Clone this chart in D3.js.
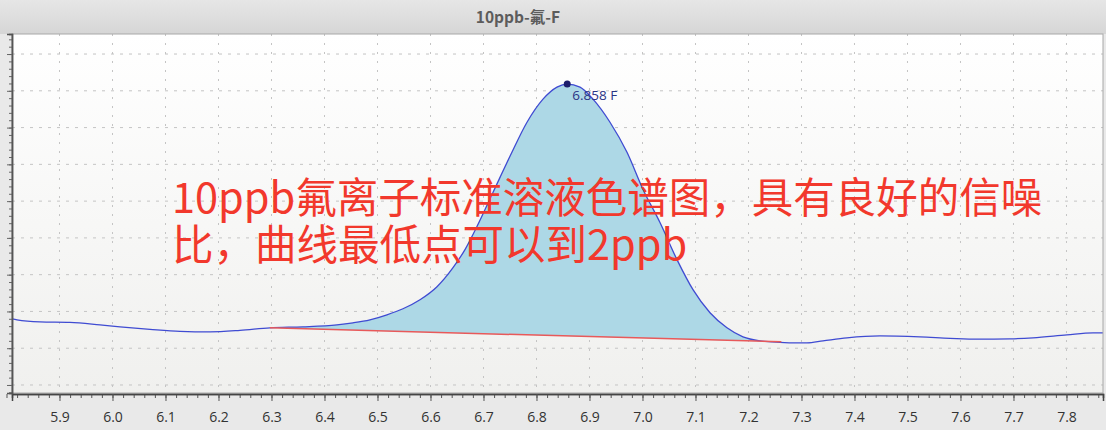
<!DOCTYPE html>
<html>
<head>
<meta charset="utf-8">
<script src="https://cdn.jsdelivr.net/npm/d3@7/dist/d3.min.js"></script>
<style>
  html, body { margin: 0; padding: 0; background: #e9e9e9; }
  svg { display: block; }
</style>
</head>
<body>
<svg id="chart" width="1106" height="430"></svg>
<script>
// ---- data (retention time in min, detector signal in arbitrary units) ----
const title = "10ppb-氟-F";
const timeValues = [5.8104, 5.8198, 5.8632, 5.9198, 5.9764, 6.0142, 6.0708, 6.1274, 6.1840, 6.2406,
  6.2972, 6.3594, 6.4236, 6.4538, 6.4858, 6.5179, 6.5481, 6.5802, 6.6123, 6.6425,
  6.6651, 6.6877, 6.7179, 6.7500, 6.7821, 6.8123, 6.8387, 6.858, 6.8821,
  6.9066, 6.9387, 6.9708, 7.0010, 7.0330, 7.0651, 7.0953, 7.1274, 7.1594, 7.1896,
  7.2217, 7.2594, 7.2915, 7.3104, 7.3406, 7.3858, 7.4481, 7.5236, 7.5802, 7.6330,
  7.6934, 7.7368, 7.8009, 7.8500, 7.8689];
const signalValues = [1.800, 1.773, 1.718, 1.705, 1.636, 1.582, 1.514, 1.459, 1.445, 1.486,
  1.555, 1.582, 1.636, 1.691, 1.773, 1.909, 2.073, 2.318, 2.673, 3.191,
  3.682, 4.309, 5.236, 6.218, 7.145, 7.773, 8.100, 8.182, 8.100,
  7.773, 7.145, 6.327, 5.318, 4.418, 3.409, 2.591, 1.964, 1.555, 1.309,
  1.200, 1.159, 1.145, 1.145, 1.200, 1.282, 1.336, 1.309, 1.270, 1.245,
  1.255, 1.282, 1.364, 1.418, 1.418];
const baselineTime = [6.297, 7.262];
const baselineSignal = [1.555, 1.173];
const peakTime = 6.858;
const peakSignal = 8.182;
const peakLabel = "6.858 F";
const xTickValues = [5.9, 6.0, 6.1, 6.2, 6.3, 6.4, 6.5, 6.6, 6.7, 6.8, 6.9, 7.0, 7.1, 7.2, 7.3, 7.4, 7.5, 7.6, 7.7, 7.8];
const yTickValues = [0, 1, 2, 3, 4, 5, 6, 7, 8, 9];
const noteLines = ["10ppb氟离子标准溶液色谱图，具有良好的信噪", "比，曲线最低点可以到2ppb"];

// ---- layout ----
const W = 1106, H = 430;
const plot = { left: 12, top: 34, right: 1103, bottom: 393 };
const svg = d3.select("#chart");

const x = d3.scaleLinear().domain([5.8104, 7.8689]).range([plot.left, plot.right]);
const y = d3.scaleLinear().domain([-0.218, 9.545]).range([plot.bottom, plot.top]);

const defs = svg.append("defs");
const tg = defs.append("linearGradient").attr("id", "tbar").attr("x1", 0).attr("x2", 0).attr("y1", 0).attr("y2", 1);
tg.append("stop").attr("offset", "0%").attr("stop-color", "#e6e6e6");
tg.append("stop").attr("offset", "100%").attr("stop-color", "#d6d6d6");
const pg = defs.append("linearGradient").attr("id", "pbg").attr("x1", 0).attr("x2", 0).attr("y1", 0).attr("y2", 1);
pg.append("stop").attr("offset", "0%").attr("stop-color", "#ffffff");
pg.append("stop").attr("offset", "100%").attr("stop-color", "#f0f0ee");
defs.append("clipPath").attr("id", "clip").append("rect")
  .attr("x", plot.left).attr("y", plot.top).attr("width", plot.right - plot.left).attr("height", plot.bottom - plot.top);

// background
svg.append("rect").attr("width", W).attr("height", H).attr("fill", "#e9e9e9");
svg.append("rect").attr("x", 0).attr("y", 0).attr("width", W).attr("height", plot.top).attr("fill", "url(#tbar)");
svg.append("text").attr("x", 518).attr("y", 23).attr("text-anchor", "middle")
  .attr("font-family", "'Noto Sans CJK SC', 'Noto Sans', sans-serif").attr("font-weight", "bold")
  .attr("font-size", 15.5).attr("fill", "#5c5c5c").text(title);

svg.append("rect").attr("x", plot.left).attr("y", plot.top)
  .attr("width", plot.right - plot.left).attr("height", plot.bottom - plot.top)
  .attr("fill", "url(#pbg)");

// grid
const grid = svg.append("g").attr("clip-path", "url(#clip)");
grid.selectAll("line.h").data(yTickValues).join("line").attr("class", "h")
  .attr("x1", plot.left).attr("x2", plot.right)
  .attr("y1", d => y(d)).attr("y2", d => y(d))
  .attr("stroke", "#c4c4c4").attr("stroke-width", 1).attr("stroke-dasharray", "3,6");
grid.selectAll("line.v").data(xTickValues).join("line").attr("class", "v")
  .attr("x1", d => x(d)).attr("x2", d => x(d))
  .attr("y1", plot.top).attr("y2", plot.bottom)
  .attr("stroke", "#c4c4c4").attr("stroke-width", 1).attr("stroke-dasharray", "2,7");

// data
const pts = timeValues.map((t, i) => ({ t, s: signalValues[i] }));
const base = d3.scaleLinear().domain(baselineTime).range(baselineSignal);
const inPeak = pts.filter(p => p.t >= baselineTime[0] && p.t <= baselineTime[1]);
const lastPt = { t: baselineTime[1], s: base(baselineTime[1]) };
const peakPts = inPeak.concat([lastPt]);

const g = svg.append("g").attr("clip-path", "url(#clip)");
g.append("path").datum(peakPts)
  .attr("d", d3.area().x(d => x(d.t)).y0(d => y(base(d.t))).y1(d => y(d.s)).curve(d3.curveMonotoneX))
  .attr("fill", "#add8e6");
g.append("path").datum(pts)
  .attr("d", d3.line().x(d => x(d.t)).y(d => y(d.s)).curve(d3.curveMonotoneX))
  .attr("fill", "none").attr("stroke", "#3f4bd2").attr("stroke-width", 1.3);
g.append("line")
  .attr("x1", x(baselineTime[0])).attr("y1", y(baselineSignal[0]))
  .attr("x2", x(baselineTime[1])).attr("y2", y(baselineSignal[1]))
  .attr("stroke", "#e8595a").attr("stroke-width", 1.5);

g.append("circle").attr("cx", x(peakTime)).attr("cy", y(peakSignal)).attr("r", 3.5).attr("fill", "#1d1d6b");
g.append("text").attr("x", x(peakTime) + 5).attr("y", y(peakSignal) + 16)
  .attr("font-family", "'Open Sans', 'Noto Sans', sans-serif").attr("font-size", 13.5)
  .attr("fill", "#2a3485").text(peakLabel);

// border
svg.append("rect").attr("x", plot.left).attr("y", plot.top)
  .attr("width", plot.right - plot.left).attr("height", plot.bottom - plot.top)
  .attr("fill", "none").attr("stroke", "#a8a8a8").attr("stroke-width", 1);

// axes
const minorX = d3.range(58, 788).map(v => v / 100).filter(v => Math.round(v * 100) % 2 === 0);
const xAxisMinor = d3.axisBottom(x).tickValues(minorX).tickSize(4).tickFormat("");
const xAxis = d3.axisBottom(x).tickValues(xTickValues).tickSize(7).tickFormat(d3.format(".1f"));
const gxm = svg.append("g").attr("transform", `translate(0,${plot.bottom + 1})`).call(xAxisMinor);
const gx = svg.append("g").attr("transform", `translate(0,${plot.bottom + 1})`).call(xAxis);
[gx, gxm].forEach(a => {
  a.select(".domain").attr("stroke", "#444").attr("stroke-width", 1.5);
  a.selectAll(".tick line").attr("stroke", "#555");
});
gx.selectAll(".tick text").attr("font-family", "'Open Sans', 'Noto Sans', sans-serif")
  .attr("font-size", 14).attr("fill", "#333").attr("dy", "1.25em");

const minorY = d3.range(-1, 48).map(v => v / 5);
const yAxisMinor = d3.axisLeft(y).tickValues(minorY.filter(v => v >= -0.2 && v <= 9.5)).tickSize(3).tickFormat("");
const yAxis = d3.axisLeft(y).tickValues(yTickValues).tickSize(5).tickFormat("");
const gym = svg.append("g").attr("transform", `translate(${plot.left},0)`).call(yAxisMinor);
const gy = svg.append("g").attr("transform", `translate(${plot.left},0)`).call(yAxis);
[gy, gym].forEach(a => {
  a.select(".domain").attr("stroke", "#555").attr("stroke-width", 1.5);
  a.selectAll(".tick line").attr("stroke", "#666");
});

// annotation
const note = svg.append("text").attr("font-family", "'Noto Sans CJK SC', sans-serif")
  .attr("font-size", 41.5).attr("fill", "#f2382c");
noteLines.forEach((l, i) => {
  note.append("tspan").attr("x", 172).attr("y", 213 + i * 47).text(l);
});
</script>
</body>
</html>
